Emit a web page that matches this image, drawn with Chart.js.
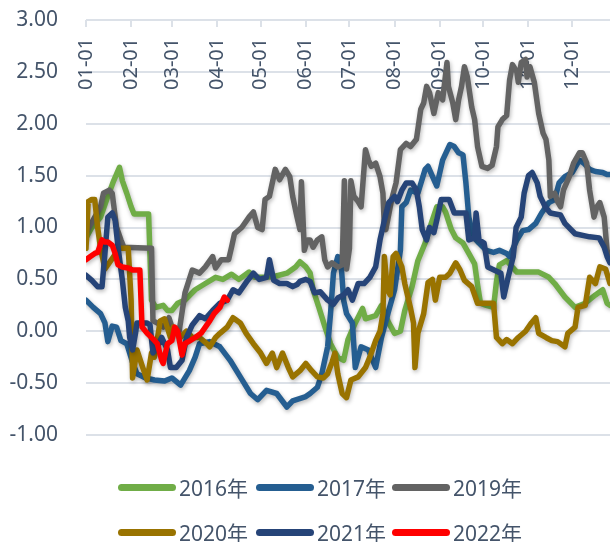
<!DOCTYPE html>
<html>
<head>
<meta charset="utf-8">
<script src="https://cdn.jsdelivr.net/npm/chart.js@4"></script>
<style>
  html,body{margin:0;padding:0;background:#fff;}
  #wrap{position:relative;width:610px;height:542px;}
  #legend{position:absolute;left:0;top:0;width:610px;height:542px;pointer-events:none;
    font-family:"Noto Sans","Noto Sans CJK SC",sans-serif;font-size:21px;color:#44546A;}
  .item{position:absolute;display:flex;align-items:center;height:30px;white-space:nowrap;}
  .sw{display:inline-block;width:58px;height:7px;border-radius:4px;margin-right:3px;}
</style>
</head>
<body>
<div id="wrap">
  <canvas id="c" width="610" height="542"></canvas>
  <div id="legend"></div>
</div>
<script>
// ---- data (x = day of year, y = value) ----
const monthDays   = [0,31,59,90,120,151,181,212,243,273,304,334];
const monthLabels = ['01-01','02-01','03-01','04-01','05-01','06-01','07-01','08-01','09-01','10-01','11-01','12-01'];
const seriesNames = ['2016年','2017年','2019年','2020年','2021年','2022年'];
const seriesColors = ['#70AD47','#255E91','#636363','#997300','#264478','#FF0000'];

const s2016 = [[0,0.9],[4,1.0],[10,1.1],[15,1.3],[19,1.45],[23,1.58],[25,1.45],[28,1.33],[31,1.2],[33,1.13],[43,1.13],[45,0.3],[48,0.23],[53,0.25],[56,0.2],[59,0.2],[63,0.27],[68,0.3],[75,0.4],[82,0.46],[89,0.52],[94,0.5],[100,0.55],[105,0.5],[112,0.57],[116,0.52],[122,0.52],[130,0.53],[138,0.56],[144,0.62],[147,0.67],[151,0.62],[154,0.56],[156,0.4],[160,0.23],[164,0.05],[168,-0.12],[173,-0.25],[177,-0.28],[180,-0.08],[185,0.08],[190,0.22],[192,0.12],[199,0.15],[203,0.25],[208,0.08],[212,-0.02],[216,0.0],[219,0.2],[224,0.43],[228,0.68],[233,0.85],[237,1.03],[241,1.2],[245,1.2],[247,1.15],[251,0.98],[254,0.9],[259,0.85],[263,0.75],[267,0.65],[269,0.45],[271,0.27],[275,0.25],[280,0.23],[282,0.48],[284,0.64],[289,0.68],[296,0.57],[304,0.57],[311,0.57],[318,0.52],[322,0.46],[329,0.33],[336,0.23],[343,0.27],[350,0.35],[355,0.4],[358,0.27],[360,0.25]];
const s2017 = [[0,0.3],[5,0.23],[10,0.17],[13,0.08],[15,-0.1],[18,0.05],[21,0.04],[24,-0.09],[28,-0.12],[32,-0.3],[35,-0.41],[41,-0.45],[47,-0.47],[54,-0.48],[59,-0.45],[65,-0.52],[68,-0.45],[71,-0.38],[75,-0.25],[78,-0.12],[85,-0.1],[92,-0.15],[99,-0.28],[106,-0.44],[113,-0.6],[118,-0.66],[124,-0.57],[131,-0.6],[138,-0.73],[142,-0.67],[151,-0.63],[154,-0.6],[159,-0.54],[162,-0.41],[166,-0.15],[168,0.17],[170,0.56],[173,0.72],[175,0.7],[177,0.3],[179,0.17],[183,0.08],[185,-0.35],[189,-0.15],[194,-0.18],[199,-0.35],[203,-0.06],[208,0.2],[212,0.4],[216,0.78],[217,1.2],[220,1.24],[223,1.36],[228,1.33],[233,1.56],[235,1.59],[240,1.43],[241,1.4],[245,1.65],[250,1.8],[253,1.78],[256,1.72],[259,1.7],[261,1.43],[263,1.1],[266,0.91],[270,0.85],[275,0.78],[280,0.76],[284,0.78],[289,0.75],[291,0.72],[296,0.88],[300,0.97],[304,0.98],[309,1.04],[313,1.14],[318,1.24],[322,1.27],[325,1.43],[329,1.49],[334,1.53],[339,1.65],[342,1.62],[346,1.56],[350,1.54],[355,1.53],[358,1.51],[360,1.51]];
const s2019 = [[0,0.95],[4,1.05],[10,1.2],[12,1.33],[16,1.36],[18,1.33],[21,1.0],[24,0.88],[26,0.81],[45,0.8],[46,0.1],[49,0.08],[53,0.04],[57,0.13],[60,0.0],[64,0.0],[68,0.37],[73,0.59],[78,0.56],[82,0.62],[87,0.72],[89,0.61],[93,0.69],[98,0.69],[100,0.81],[102,0.94],[107,1.0],[112,1.1],[115,1.15],[118,1.0],[121,0.98],[123,1.27],[126,1.3],[130,1.56],[133,1.46],[137,1.56],[140,1.49],[142,1.3],[145,1.1],[147,0.98],[148,1.44],[150,0.78],[152,0.88],[154,0.88],[156,0.81],[159,0.88],[162,0.91],[164,0.69],[166,0.62],[169,0.66],[173,0.62],[176,0.64],[177.5,1.45],[179,0.6],[181,0.8],[182,1.45],[184,1.3],[187,1.25],[189,1.2],[192,1.75],[194,1.65],[196,1.59],[199,1.62],[202,1.49],[204,1.33],[205,1.0],[206,0.98],[210,1.27],[213,1.43],[216,1.75],[220,1.81],[223,1.78],[227,1.85],[230,2.14],[232,2.2],[234,2.36],[236,2.3],[239,2.1],[242,2.3],[245,2.23],[248,2.59],[249,2.36],[252,2.2],[254,2.04],[256,2.23],[258,2.36],[260,2.55],[262,2.45],[265,2.16],[267,2.04],[269,1.78],[272,1.59],[276,1.57],[279,1.6],[282,1.78],[283,1.97],[286,2.04],[289,2.08],[291,2.42],[293,2.57],[296,2.5],[297,2.4],[299,2.59],[302,2.62],[303,2.45],[305,2.55],[308,2.4],[311,2.1],[314,1.91],[316,1.85],[318,1.65],[319,1.3],[322,1.33],[324,1.25],[326,1.2],[328,1.36],[332,1.49],[335,1.62],[339,1.72],[341,1.72],[344,1.62],[346,1.36],[349,1.1],[351,1.2],[353,1.24],[356,1.1],[358,0.78],[360,0.72]];
const s2020 = [[0,0.8],[1.5,1.25],[4,1.27],[6,1.27],[8,1.0],[10,0.8],[13,0.6],[18,0.7],[23,0.8],[29,0.8],[31,0.3],[32,-0.45],[35,-0.18],[39,-0.35],[42,-0.47],[45,-0.21],[47,-0.25],[51,0.1],[54,0.12],[58,-0.06],[60,0.04],[65,-0.06],[69,0.0],[73,-0.06],[78,-0.06],[83,-0.12],[85,-0.15],[89,-0.06],[92,-0.02],[97,0.04],[101,0.13],[106,0.08],[110,-0.02],[115,-0.12],[120,-0.21],[124,-0.31],[128,-0.21],[131,-0.35],[135,-0.21],[139,-0.35],[142,-0.44],[147,-0.38],[151,-0.31],[155,-0.38],[159,-0.44],[163,-0.45],[166,-0.41],[169,-0.3],[171,-0.21],[173,-0.41],[176,-0.6],[179,-0.64],[182,-0.47],[187,-0.44],[192,-0.35],[195,-0.25],[199,-0.09],[202,0.0],[204,0.17],[205,0.72],[207,0.4],[209,0.35],[211,0.72],[213,0.75],[217,0.62],[219,0.46],[223,0.22],[225,0.08],[226,-0.35],[228,-0.02],[232,0.17],[235,0.47],[238,0.5],[240,0.3],[243,0.52],[247,0.52],[250,0.56],[254,0.66],[257,0.59],[260,0.49],[265,0.43],[269,0.27],[274,0.27],[280,0.27],[282,-0.06],[286,-0.12],[289,-0.08],[293,-0.12],[297,-0.06],[302,0.0],[306,0.08],[309,0.13],[311,-0.02],[316,-0.06],[320,-0.09],[324,-0.1],[329,-0.15],[331,-0.02],[336,0.04],[338,0.23],[343,0.25],[346,0.52],[350,0.46],[353,0.62],[357,0.6],[360,0.46]];
const s2021 = [[0,0.54],[4,0.49],[8,0.43],[11,0.43],[13,0.75],[15,1.1],[18,1.14],[20,1.07],[22,0.81],[25,0.49],[27,0.23],[29,0.1],[30,-0.06],[32,-0.18],[34,-0.02],[35,0.08],[42,0.08],[44,0.06],[46,-0.21],[49,-0.15],[52,-0.06],[56,-0.18],[58,-0.35],[62,-0.35],[66,-0.28],[69,-0.06],[73,0.06],[78,0.15],[82,0.12],[87,0.2],[92,0.27],[97,0.3],[101,0.4],[105,0.37],[111,0.49],[115,0.56],[119,0.5],[124,0.52],[126,0.69],[129,0.49],[133,0.46],[138,0.46],[142,0.43],[145,0.45],[147,0.48],[151,0.5],[154,0.48],[157,0.37],[161,0.38],[166,0.3],[170,0.26],[173,0.32],[177,0.35],[180,0.4],[183,0.3],[187,0.46],[191,0.46],[195,0.52],[199,0.62],[202,0.88],[205,1.07],[208,1.24],[212,1.3],[214,1.25],[217,1.36],[220,1.43],[224,1.43],[227,1.36],[229,1.2],[231,0.98],[234,0.88],[236,1.0],[239,0.95],[241,1.07],[244,1.27],[249.5,1.27],[253,1.14],[261,1.14],[263,0.88],[267,0.9],[268,1.14],[270,0.88],[273.5,0.85],[276,0.62],[285,0.56],[287,0.33],[290,0.52],[293.5,0.72],[295.5,1.0],[299,1.1],[301,1.33],[304,1.5],[306.5,1.53],[310,1.43],[312,1.3],[315.5,1.2],[319,1.14],[326,1.12],[329,1.04],[336,0.94],[346,0.91],[352.6,0.9],[356,0.81],[358,0.72],[360,0.66]];
const s2022 = [[0,0.69],[3,0.72],[6,0.75],[8,0.76],[11,0.88],[13,0.86],[15,0.86],[18,0.83],[20,0.75],[22,0.64],[25,0.62],[29,0.61],[32,0.59],[37,0.59],[38.5,0.04],[42,-0.02],[45,-0.06],[49,-0.12],[52,-0.28],[53,-0.31],[56,-0.12],[59,-0.09],[61,0.04],[63,0.0],[66,-0.23],[68,-0.12],[71.5,-0.09],[75,-0.06],[79,-0.02],[82,0.04],[85,0.1],[88,0.17],[92,0.23],[95,0.33],[97,0.3]];
const yTicks = [-1,-0.5,0,0.5,1,1.5,2,2.5,3];

const allSeries = [s2016,s2017,s2019,s2020,s2021,s2022];
const textColor = '#44546A';
const gridColor = '#DCE1E8';
const axisFont = {family:'"Noto Sans","Open Sans",sans-serif', size:21};
const xFont = {family:'"Noto Sans","Open Sans",sans-serif', size:20};

const datasets = allSeries.map((s,i)=>({
  label: seriesNames[i],
  data: s.map(p=>({x:p[0], y:p[1]})),
  borderColor: seriesColors[i],
  backgroundColor: seriesColors[i],
  borderWidth: 5.5,
  pointRadius: 0,
  tension: 0,
  fill: false,
  borderJoinStyle: 'round',
  borderCapStyle: 'round',
  order: allSeries.length - i
}));

const shadowPlugin = {
  id:'shadow',
  beforeDatasetDraw(chart){ const c=chart.ctx; c.save(); c.shadowColor='rgba(0,0,0,0.28)'; c.shadowBlur=4; c.shadowOffsetX=1; c.shadowOffsetY=2; },
  afterDatasetDraw(chart){ chart.ctx.restore(); }
};

new Chart(document.getElementById('c'), {
  type:'line',
  data:{datasets},
  plugins:[shadowPlugin],
  options:{
    responsive:false,
    animation:false,
    layout:{padding:{left:0,right:0,top:0,bottom:107}},
    plugins:{legend:{display:false}, tooltip:{enabled:false}},
    scales:{
      x:{
        type:'linear', position:'top', min:0, max:360,
        afterBuildTicks(s){ s.ticks = monthDays.map(v=>({value:v})); },
        afterFit(s){ s.height = 20; s.paddingLeft = 0; s.paddingRight = 0; },
        ticks:{ autoSkip:false, minRotation:90, maxRotation:90, mirror:true, padding:70,
          font:xFont, color:textColor,
          callback:(v,i)=>monthLabels[i] },
        grid:{ drawOnChartArea:false, drawTicks:true, tickLength:-7, color:gridColor, lineWidth:2 },
        border:{display:false}
      },
      y:{
        min:-1, max:3,
        afterBuildTicks(s){ s.ticks = yTicks.map(v=>({value:v})); },
        afterFit(s){ s.width = 86; s.paddingTop = 0; s.paddingBottom = 0; },
        ticks:{ padding:28, font:axisFont, color:textColor, callback:v=>Number(v).toFixed(2) },
        grid:{ color:gridColor, lineWidth:2, drawTicks:false },
        border:{display:false}
      }
    }
  }
});

// HTML legend
const lg = document.getElementById('legend');
const lefts = [118,256,392];
const tops = [472,517];
seriesNames.forEach((n,i)=>{
  const d = document.createElement('div');
  d.className='item';
  d.style.left = lefts[i%3]+'px';
  d.style.top = tops[Math.floor(i/3)]+'px';
  const sw = document.createElement('span'); sw.className='sw'; sw.style.background=seriesColors[i];
  const t = document.createElement('span'); t.textContent = n;
  d.appendChild(sw); d.appendChild(t);
  lg.appendChild(d);
});
</script>
</body>
</html>
